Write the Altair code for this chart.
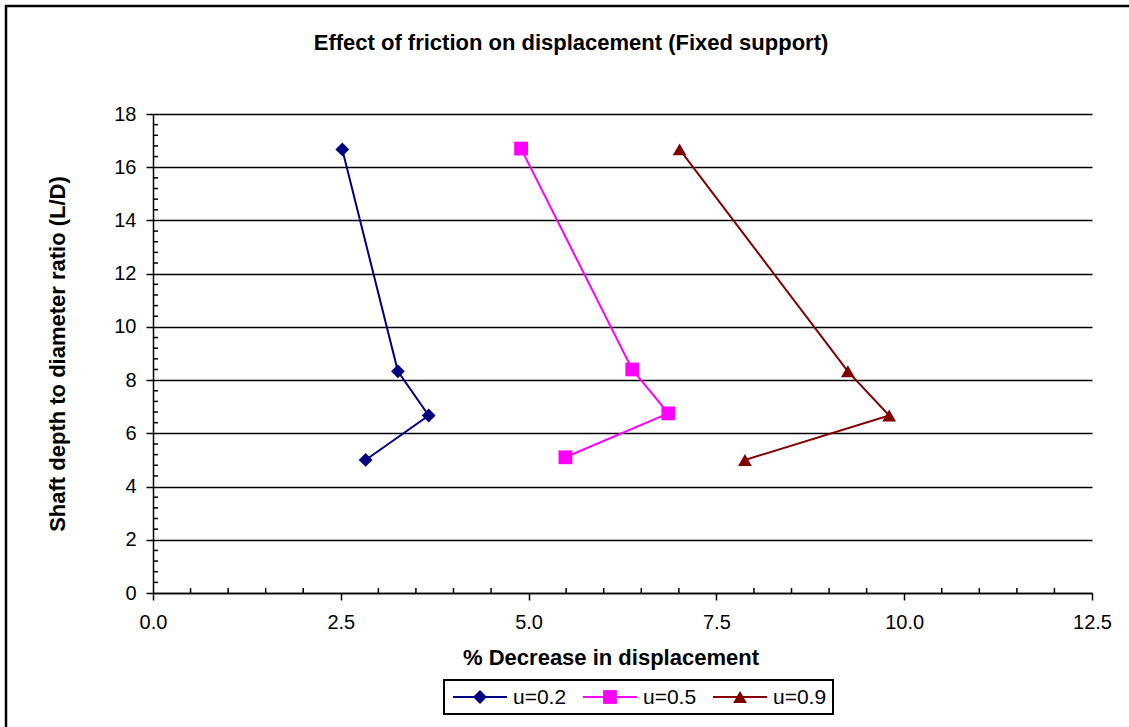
import altair as alt
import pandas as pd

# Friction coefficient series
series = ["u=0.2", "u=0.5", "u=0.9"]
colors = ["#000080", "#FF00FF", "#800000"]
shapes = ["diamond", "square", "triangle-up"]

# Shaft depth to diameter ratio (L/D) for each series
ld_u02 = [16.67, 8.33, 6.67, 5.0]
ld_u05 = [16.7, 8.4, 6.75, 5.1]
ld_u09 = [16.67, 8.33, 6.67, 5.0]

# % decrease in displacement for each series
dec_u02 = [2.52, 3.26, 3.67, 2.83]
dec_u05 = [4.90, 6.38, 6.86, 5.49]
dec_u09 = [7.01, 9.25, 9.80, 7.88]

x_ticks = [0.0, 2.5, 5.0, 7.5, 10.0, 12.5]
y_ticks = [0, 2, 4, 6, 8, 10, 12, 14, 16, 18]
x_minor = [i * 0.5 for i in range(1, 25) if (i * 0.5) % 2.5 != 0]
y_minor = [round(i * 0.4, 1) for i in range(1, 45) if round(i * 0.4, 1) % 2 != 0]

FONT = "Liberation Sans"
W, H = 939, 479
LEFT, TOP, RIGHT, BOTTOM = 153, 114, 37, 134

rows = []
for name, xs, ys in [(series[0], dec_u02, ld_u02),
                     (series[1], dec_u05, ld_u05),
                     (series[2], dec_u09, ld_u09)]:
    for i, (xv, yv) in enumerate(zip(xs, ys)):
        rows.append({"series": name, "decrease": xv, "ld": yv, "order": i})
df = pd.DataFrame(rows)

xscale = alt.Scale(domain=[0, 12.5], nice=False, zero=False)
yscale = alt.Scale(domain=[0, 18], nice=False, zero=False)
cscale = alt.Scale(domain=series, range=colors)
sscale = alt.Scale(domain=series, range=shapes)

base = alt.Chart(df)

lines = base.mark_line(strokeWidth=2).encode(
    x=alt.X("decrease:Q", scale=xscale,
            axis=alt.Axis(values=x_ticks, format=".1f", title=None, grid=False,
                          tickSize=7, tickWidth=1.5, tickColor="black",
                          domainColor="black", domainWidth=1.5,
                          labelFont=FONT, labelFontSize=20, labelColor="black",
                          labelPadding=12, labelFlush=False, labelOverlap=False)),
    y=alt.Y("ld:Q", scale=yscale,
            axis=alt.Axis(values=y_ticks, format="d", title=None, grid=True,
                          gridColor="black", gridWidth=1.5,
                          tickSize=7, tickWidth=1.5, tickColor="black",
                          domainColor="black", domainWidth=1.5,
                          labelFont=FONT, labelFontSize=20, labelColor="black",
                          labelPadding=10, labelFlush=False, labelOverlap=False)),
    color=alt.Color("series:N", scale=cscale, legend=None),
    order="order:Q",
)

points = base.mark_point(filled=True, opacity=1, size=190).encode(
    x=alt.X("decrease:Q", scale=xscale),
    y=alt.Y("ld:Q", scale=yscale),
    color=alt.Color("series:N", scale=cscale, legend=None),
    shape=alt.Shape("series:N", scale=sscale, legend=None),
)

# Minor ticks drawn inside the plot area
xm = alt.Chart(pd.DataFrame({"v": x_minor})).mark_rule(color="black", strokeWidth=1.5).encode(
    x=alt.X("v:Q", scale=xscale), y=alt.value(H), y2=alt.value(H - 5))
ym = alt.Chart(pd.DataFrame({"v": y_minor})).mark_rule(color="black", strokeWidth=1.5).encode(
    y=alt.Y("v:Q", scale=yscale), x=alt.value(0), x2=alt.value(5))

# Titles
title = alt.Chart(pd.DataFrame({"t": ["Effect of friction on displacement (Fixed support)"]})).mark_text(
    font=FONT, fontSize=22, fontWeight="bold", color="black", baseline="middle", align="center"
).encode(text="t:N", x=alt.value(571 - LEFT), y=alt.value(43 - TOP))

xtitle = alt.Chart(pd.DataFrame({"t": ["% Decrease in displacement"]})).mark_text(
    font=FONT, fontSize=22, fontWeight="bold", color="black", baseline="middle", align="center"
).encode(text="t:N", x=alt.value(611 - LEFT), y=alt.value(658 - TOP))

ytitle = alt.Chart(pd.DataFrame({"t": ["Shaft depth to diameter ratio (L/D)"]})).mark_text(
    font=FONT, fontSize=22, fontWeight="bold", color="black", baseline="middle", align="center",
    angle=270
).encode(text="t:N", x=alt.value(58 - LEFT), y=alt.value(354 - TOP))

# Outer chart frame (left and top edges)
frame_left = alt.Chart(pd.DataFrame({"a": [0]})).mark_rule(color="black", strokeWidth=2.5).encode(
    x=alt.value(6 - LEFT), y=alt.value(5 - TOP), y2=alt.value(727 - TOP))
frame_top = alt.Chart(pd.DataFrame({"a": [0]})).mark_rule(color="black", strokeWidth=2.5).encode(
    y=alt.value(6 - TOP), x=alt.value(5 - LEFT), x2=alt.value(1129 - LEFT))

# Legend
LEG_X0, LEG_STEP, LEG_Y = 453, 130, 697
leg = pd.DataFrame({
    "series": series,
    "x1": [LEG_X0 + i * LEG_STEP - LEFT for i in range(3)],
    "x2": [LEG_X0 + i * LEG_STEP + 54 - LEFT for i in range(3)],
    "xm": [LEG_X0 + i * LEG_STEP + 27 - LEFT for i in range(3)],
    "xt": [LEG_X0 + i * LEG_STEP + 60 - LEFT for i in range(3)],
})
leg_box = alt.Chart(pd.DataFrame({"a": [0]})).mark_rect(
    fill="white", stroke="black", strokeWidth=2).encode(
    x=alt.value(444 - LEFT), x2=alt.value(833 - LEFT),
    y=alt.value(680 - TOP), y2=alt.value(714 - TOP))
leg_base = alt.Chart(leg)
leg_lines = leg_base.mark_rule(strokeWidth=2).encode(
    x=alt.X("x1:Q", scale=None), x2="x2:Q", y=alt.value(LEG_Y - TOP),
    color=alt.Color("series:N", scale=cscale, legend=None))
leg_pts = leg_base.mark_point(filled=True, opacity=1, size=190).encode(
    x=alt.X("xm:Q", scale=None), y=alt.value(LEG_Y - TOP),
    color=alt.Color("series:N", scale=cscale, legend=None),
    shape=alt.Shape("series:N", scale=sscale, legend=None))
leg_text = leg_base.mark_text(font=FONT, fontSize=21, align="left", baseline="middle",
                              color="black").encode(
    x=alt.X("xt:Q", scale=None), y=alt.value(LEG_Y - TOP + 1), text="series:N")

chart = alt.layer(
    frame_left, frame_top, xm, ym, lines, points, title, xtitle, ytitle,
    leg_box, leg_lines, leg_pts, leg_text
).properties(
    width=W, height=H,
    autosize=alt.AutoSizeParams(type="none"),
    padding={"left": LEFT, "top": TOP, "right": RIGHT, "bottom": BOTTOM},
    background="white",
).configure_view(stroke=None)

chart.save("out.html", embed_options={"renderer": "svg", "actions": False})
